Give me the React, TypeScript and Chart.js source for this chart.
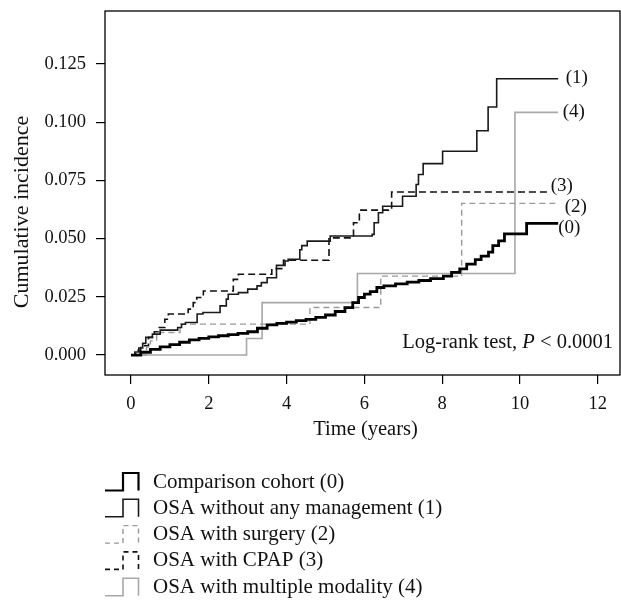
import React, { useEffect, useRef } from "react";
import { Chart, registerables } from "chart.js";

Chart.register(...registerables);

// ---- data (time in years, cumulative incidence) ----
const comparisonT = [0, 0.25, 0.5, 0.75, 1.0, 1.25, 1.5, 1.75, 2.0, 2.25, 2.5, 2.75, 3.0, 3.25, 3.5, 3.75, 4.0, 4.25, 4.5, 4.75, 5.0, 5.25, 5.5, 5.7, 5.85, 6.0, 6.15, 6.32, 6.5, 6.8, 7.1, 7.4, 7.7, 8.03, 8.24, 8.45, 8.63, 8.85, 9.0, 9.19, 9.3, 9.45, 9.6, 10.17, 10.98];
const comparisonV = [0, 0.0012, 0.0024, 0.0035, 0.0045, 0.0055, 0.0065, 0.0072, 0.0078, 0.0083, 0.0088, 0.0093, 0.0100, 0.0115, 0.0130, 0.0136, 0.0141, 0.0148, 0.0153, 0.0162, 0.0172, 0.0187, 0.0204, 0.0225, 0.0247, 0.0262, 0.0272, 0.0290, 0.0297, 0.0306, 0.0313, 0.0320, 0.0328, 0.0339, 0.0355, 0.0370, 0.0390, 0.0410, 0.0425, 0.0442, 0.0470, 0.0490, 0.0520, 0.0565, 0.0565];

const noMgmtT = [0, 0.10, 0.20, 0.30, 0.38, 0.55, 0.75, 1.20, 1.30, 1.40, 1.70, 1.85, 2.29, 2.45, 2.50, 2.76, 3.00, 3.24, 3.35, 3.50, 3.74, 3.96, 4.04, 4.34, 4.39, 4.53, 5.12, 6.20, 6.25, 6.36, 6.47, 6.98, 7.33, 7.39, 7.51, 8.01, 8.89, 9.18, 9.40, 10.98];
const noMgmtV = [0, 0.0013, 0.0030, 0.0050, 0.0076, 0.0090, 0.0107, 0.0118, 0.0132, 0.0140, 0.0176, 0.0183, 0.0211, 0.0240, 0.0261, 0.0268, 0.0283, 0.0297, 0.0311, 0.0332, 0.0385, 0.0404, 0.0411, 0.0452, 0.0470, 0.0489, 0.0511, 0.0518, 0.0568, 0.0611, 0.0639, 0.0682, 0.0732, 0.0775, 0.0822, 0.0875, 0.0963, 0.1065, 0.1186, 0.1186];

const surgeryT = [0, 0.40, 0.50, 0.66, 1.26, 4.60, 6.42, 8.50, 10.98];
const surgeryV = [0, 0.0034, 0.0061, 0.0097, 0.0133, 0.0204, 0.0339, 0.0651, 0.0651];

const cpapT = [0, 0.12, 0.25, 0.45, 0.60, 0.70, 0.87, 0.96, 1.47, 1.60, 1.69, 1.86, 2.63, 2.76, 3.62, 3.92, 5.09, 5.72, 5.87, 6.70, 10.75];
const cpapV = [0, 0.0020, 0.0040, 0.0076, 0.0100, 0.0118, 0.0154, 0.0176, 0.0197, 0.0225, 0.0247, 0.0275, 0.0325, 0.0347, 0.0371, 0.0407, 0.0503, 0.0568, 0.0622, 0.0700, 0.0700];

const multiT = [0, 2.97, 3.37, 5.82, 9.87, 10.98];
const multiV = [0, 0.0071, 0.0225, 0.0350, 0.1042, 0.1042];

const seriesNames = [
  "Comparison cohort (0)",
  "OSA without any management (1)",
  "OSA with surgery (2)",
  "OSA with CPAP (3)",
  "OSA with multiple modality (4)",
];
const endLabels = ["(0)", "(1)", "(2)", "(3)", "(4)"];

const xTicks = [0, 2, 4, 6, 8, 10, 12];
const yTicks = [0, 0.025, 0.05, 0.075, 0.1, 0.125];

const xTitle = "Time (years)";
const yTitle = "Cumulative incidence";
const logRankParts = ["Log-rank test, ", "P", " < 0.0001"];

// ---- styles ----
const FONT = "'Liberation Serif', 'Times New Roman', serif";
const styles = [
  { color: "#000000", width: 2.8, dash: [] as number[] },
  { color: "#1a1a1a", width: 1.6, dash: [] as number[] },
  { color: "#9a9a9a", width: 1.4, dash: [6, 4] },
  { color: "#111111", width: 1.6, dash: [7, 4] },
  { color: "#a8a8a8", width: 1.6, dash: [] as number[] },
];
const labelOffsets = [
  { dx: 0, dy: 5 },
  { dx: 7.5, dy: -1 },
  { dx: 6.5, dy: 4 },
  { dx: 1.5, dy: -5.5 },
  { dx: 4.5, dy: 0 },
];

const zip = (t: number[], v: number[]) => t.map((x, i) => ({ x, y: v[i] }));

const decorPlugin = {
  id: "decor",
  afterDraw(chart: any) {
    const { ctx, chartArea, scales } = chart;
    const xs = scales.x;
    const ys = scales.y;
    ctx.save();
    // box
    ctx.strokeStyle = "#000";
    ctx.lineWidth = 1.3;
    ctx.setLineDash([]);
    ctx.strokeRect(chartArea.left, chartArea.top, chartArea.right - chartArea.left, chartArea.bottom - chartArea.top);

    // end labels
    ctx.fillStyle = "#111";
    ctx.font = `19px ${FONT}`;
    ctx.textBaseline = "middle";
    ctx.textAlign = "left";
    chart.data.datasets.forEach((ds: any, i: number) => {
      const last = ds.data[ds.data.length - 1];
      const px = xs.getPixelForValue(last.x);
      const py = ys.getPixelForValue(last.y);
      ctx.fillText(endLabels[i], px + labelOffsets[i].dx, py + labelOffsets[i].dy);
    });

    // log-rank text
    ctx.textBaseline = "alphabetic";
    const normal = `20.5px ${FONT}`;
    const italic = `italic 20.5px ${FONT}`;
    const fonts = [normal, italic, normal];
    let total = 0;
    const widths = logRankParts.map((p, i) => {
      ctx.font = fonts[i];
      const w = ctx.measureText(p).width;
      total += w;
      return w;
    });
    let x = chartArea.right - 7 - total;
    const yb = chartArea.bottom - 27;
    logRankParts.forEach((p, i) => {
      ctx.font = fonts[i];
      ctx.fillText(p, x, yb);
      x += widths[i];
    });

    // axis titles
    ctx.font = `20.5px ${FONT}`;
    ctx.textAlign = "center";
    ctx.textBaseline = "middle";
    ctx.fillText(xTitle, (chartArea.left + chartArea.right) / 2 + 3, 430);
    ctx.save();
    ctx.font = `22px ${FONT}`;
    ctx.translate(22, 212);
    ctx.rotate(-Math.PI / 2);
    ctx.fillText(yTitle, 0, 0);
    ctx.restore();

    // legend
    const lx0 = 105;
    const lx1 = 123;
    const lx2 = 138.5;
    const textX = 153;
    const rowY0 = 482;
    const rowH = 26.3;
    seriesNames.forEach((name, i) => {
      const cy = rowY0 + i * rowH;
      const st = styles[i];
      ctx.beginPath();
      ctx.strokeStyle = st.color;
      ctx.lineWidth = i === 0 ? 2.2 : st.width;
      ctx.setLineDash(st.dash.length ? [5, 4] : []);
      ctx.moveTo(lx0, cy + 8.5);
      ctx.lineTo(lx1, cy + 8.5);
      ctx.lineTo(lx1, cy - 9);
      ctx.lineTo(lx2, cy - 9);
      ctx.lineTo(lx2, cy + 8.5);
      ctx.stroke();
      ctx.setLineDash([]);
      ctx.fillStyle = "#111";
      ctx.font = `21px ${FONT}`;
      ctx.textAlign = "left";
      ctx.textBaseline = "middle";
      ctx.fillText(name, textX, cy);
    });
    ctx.restore();
  },
};

export default function App() {
  const ref = useRef<HTMLCanvasElement | null>(null);
  useEffect(() => {
    if (!ref.current) return;
    const seriesData = [
      zip(comparisonT, comparisonV),
      zip(noMgmtT, noMgmtV),
      zip(surgeryT, surgeryV),
      zip(cpapT, cpapV),
      zip(multiT, multiV),
    ];
    const chart = new Chart(ref.current, {
      type: "line",
      data: {
        datasets: seriesData.map((d, i) => ({
          label: seriesNames[i],
          data: d,
          borderColor: styles[i].color,
          borderWidth: styles[i].width,
          borderDash: styles[i].dash,
          stepped: "before" as const,
          pointRadius: 0,
          fill: false,
          tension: 0,
        })),
      },
      options: {
        animation: false,
        responsive: false,
        layout: { padding: { top: 11, right: 1, left: 0, bottom: 0 } },
        plugins: { legend: { display: false }, tooltip: { enabled: false }, title: { display: false } },
        scales: {
          x: {
            type: "linear",
            min: -0.668,
            max: 12.57,
            afterBuildTicks: (s: any) => {
              s.ticks = xTicks.map((v) => ({ value: v }));
            },
            afterFit: (s: any) => {
              s.height = 226;
              s.paddingLeft = 0;
              s.paddingRight = 0;
            },
            grid: { drawOnChartArea: false, drawTicks: true, tickLength: 9, color: "#000", lineWidth: 1.2 },
            border: { display: false },
            ticks: { color: "#111", font: { family: FONT, size: 18.5 }, padding: 9, maxRotation: 0, callback: (v: any) => String(v) },
          },
          y: {
            type: "linear",
            min: -0.00856,
            max: 0.1477,
            afterBuildTicks: (s: any) => {
              s.ticks = yTicks.map((v) => ({ value: v }));
            },
            afterFit: (s: any) => {
              s.width = 105;
              s.paddingTop = 0;
              s.paddingBottom = 0;
            },
            grid: { drawOnChartArea: false, drawTicks: true, tickLength: 9, color: "#000", lineWidth: 1.2 },
            border: { display: false },
            ticks: { color: "#111", font: { family: FONT, size: 18.5 }, padding: 10, callback: (v: any) => Number(v).toFixed(3) },
          },
        },
      },
      plugins: [decorPlugin],
    });
    return () => chart.destroy();
  }, []);
  return (
    <div style={{ position: "absolute", left: 0, top: 0, width: 621, height: 601, background: "#fff" }}>
      <canvas ref={ref} width={621} height={601} style={{ display: "block" }} />
    </div>
  );
}
